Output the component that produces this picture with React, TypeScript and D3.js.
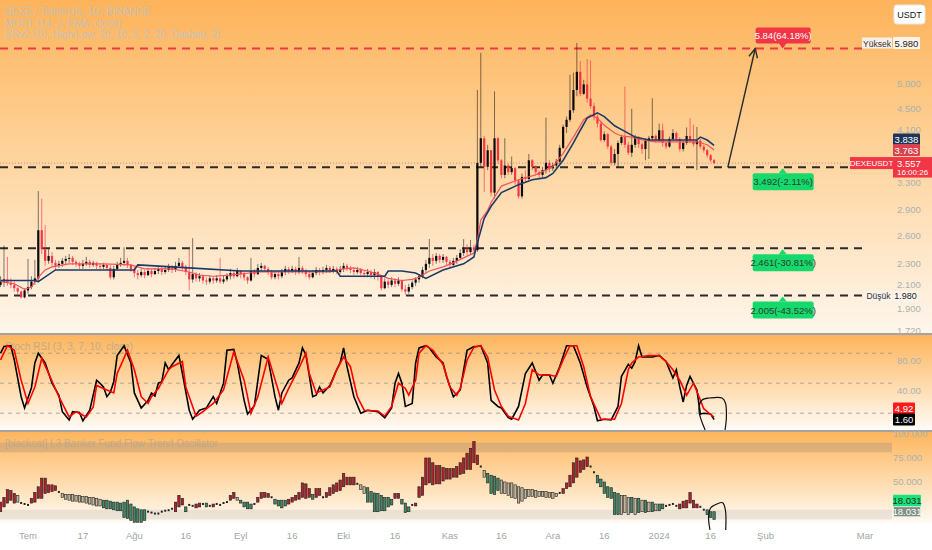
import React from 'react';
import * as d3 from 'd3';

const W = 932;
const H = 550;
const FONT = '"Liberation Sans", Arial, sans-serif';

// daily candles, first one is 23 Jun 2023, open of each day = previous close
const firstOpen = 2.1;
const closes = [
  2.13, 2.15, 2.12, 2.10, 2.07, 2.04, 1.99, 2.05, 2.08, 2.13, 2.16, 2.66, 2.45, 2.33, 2.38, 2.31, 2.28, 2.30, 2.33, 2.35,
  2.36, 2.32, 2.30, 2.28, 2.30, 2.32, 2.29, 2.31, 2.28, 2.27, 2.29, 2.26, 2.17, 2.25, 2.29, 2.31, 2.33, 2.29, 2.25, 2.21,
  2.19, 2.22, 2.19, 2.23, 2.20, 2.23, 2.25, 2.22, 2.24, 2.27, 2.24, 2.28, 2.31, 2.27, 2.22, 2.15, 2.20, 2.16, 2.18, 2.14,
  2.13, 2.16, 2.14, 2.16, 2.13, 2.15, 2.18, 2.21, 2.18, 2.23, 2.20, 2.17, 2.14, 2.23, 2.20, 2.26, 2.28, 2.25, 2.22, 2.17,
  2.20, 2.18, 2.22, 2.25, 2.23, 2.25, 2.22, 2.26, 2.23, 2.20, 2.17, 2.21, 2.24, 2.22, 2.24, 2.26, 2.23, 2.25, 2.22, 2.25,
  2.28, 2.26, 2.24, 2.22, 2.24, 2.21, 2.20, 2.22, 2.19, 2.22, 2.18, 2.07, 2.13, 2.10, 2.14, 2.11, 2.14, 2.06, 2.04, 2.08,
  2.12, 2.15, 2.18, 2.24, 2.30, 2.36, 2.33, 2.38, 2.34, 2.37, 2.32, 2.29, 2.33, 2.36, 2.41, 2.45, 2.42, 2.47, 2.44, 3.56,
  3.96, 3.50, 3.76, 3.13, 3.96, 3.60, 3.38, 3.52, 3.42, 3.48, 3.30, 3.08, 3.35, 3.32, 3.60, 3.50, 3.42, 3.38, 3.45, 3.56,
  3.48, 3.52, 3.58, 3.80, 4.16, 4.29, 4.47, 4.88, 5.28, 4.80, 5.00, 4.70, 4.55, 4.35, 4.22, 3.93, 4.03, 3.82, 3.56, 3.70,
  3.88, 3.98, 3.85, 3.72, 3.85, 3.98, 3.86, 3.78, 3.92, 3.96, 4.00, 3.92, 4.10, 3.88, 3.82, 3.95, 4.05, 3.95, 3.78, 3.88,
  4.00, 3.92, 3.86, 3.92, 3.82, 3.76, 3.68, 3.60, 3.557,
];
const highs = [
  2.18, 2.49, 2.37, 2.16, 2.13, 2.08, 2.05, 2.07, 2.35, 2.18, 2.34, 3.15, 3.05, 2.72, 2.45, 2.42, 2.34, 2.33, 2.36, 2.38,
  2.40, 2.38, 2.34, 2.32, 2.34, 2.37, 2.34, 2.33, 2.32, 2.30, 2.31, 2.30, 2.29, 2.28, 2.32, 2.36, 2.47, 2.36, 2.30, 2.27,
  2.24, 2.25, 2.24, 2.26, 2.25, 2.26, 2.28, 2.27, 2.27, 2.30, 2.29, 2.32, 2.36, 2.33, 2.29, 2.46, 2.57, 2.22, 2.21, 2.19,
  2.17, 2.19, 2.18, 2.19, 2.36, 2.19, 2.21, 2.25, 2.23, 2.26, 2.24, 2.22, 2.18, 2.36, 2.25, 2.30, 2.31, 2.29, 2.27, 2.24,
  2.23, 2.22, 2.25, 2.28, 2.27, 2.28, 2.27, 2.37, 2.28, 2.25, 2.23, 2.24, 2.27, 2.26, 2.27, 2.29, 2.28, 2.28, 2.27, 2.28,
  2.31, 2.30, 2.28, 2.26, 2.27, 2.26, 2.23, 2.25, 2.24, 2.25, 2.23, 2.19, 2.16, 2.15, 2.17, 2.16, 2.17, 2.15, 2.10, 2.11,
  2.14, 2.17, 2.20, 2.27, 2.34, 2.56, 2.40, 2.41, 2.40, 2.40, 2.38, 2.34, 2.36, 2.39, 2.45, 2.56, 2.50, 2.55, 2.50, 4.88,
  5.73, 4.00, 3.85, 3.76, 4.85, 3.98, 3.62, 3.96, 3.55, 3.66, 3.50, 3.32, 3.40, 3.45, 3.70, 3.62, 3.52, 3.45, 3.50, 4.33,
  3.60, 3.56, 3.62, 3.85, 4.20, 4.35, 5.21, 5.26, 5.98, 5.53, 5.10, 5.58, 5.55, 4.62, 4.40, 4.25, 4.08, 4.05, 3.85, 3.78,
  3.92, 4.02, 4.95, 3.90, 4.50, 4.02, 4.00, 3.90, 3.96, 4.00, 4.71, 4.03, 4.22, 4.22, 3.92, 3.99, 4.12, 4.08, 3.98, 3.92,
  4.15, 4.32, 4.20, 4.16, 3.95, 3.85, 3.78, 3.70, 3.62,
];
const lows = [
  2.08, 2.08, 2.09, 2.07, 2.04, 2.02, 1.98, 1.98, 2.02, 2.06, 2.10, 2.12, 2.40, 2.28, 2.30, 2.28, 2.24, 2.26, 2.27, 2.29,
  2.31, 2.29, 2.27, 2.25, 2.25, 2.28, 2.26, 2.27, 2.25, 2.24, 2.25, 2.23, 2.15, 2.15, 2.23, 2.27, 2.28, 2.26, 2.22, 2.17,
  2.15, 2.17, 2.16, 2.18, 2.17, 2.19, 2.20, 2.19, 2.20, 2.22, 2.21, 2.22, 2.26, 2.24, 2.19, 2.05, 2.12, 2.13, 2.13, 2.11,
  2.10, 2.11, 2.11, 2.12, 2.11, 2.11, 2.13, 2.15, 2.16, 2.17, 2.16, 2.14, 2.11, 2.13, 2.17, 2.19, 2.22, 2.22, 2.19, 2.15,
  2.15, 2.15, 2.16, 2.19, 2.20, 2.21, 2.19, 2.20, 2.20, 2.17, 2.15, 2.16, 2.19, 2.19, 2.20, 2.21, 2.21, 2.21, 2.20, 2.20,
  2.22, 2.23, 2.21, 2.19, 2.20, 2.19, 2.17, 2.17, 2.16, 2.15, 2.14, 2.05, 2.06, 2.07, 2.08, 2.08, 2.09, 2.04, 2.01, 2.02,
  2.06, 2.09, 2.12, 2.16, 2.21, 2.26, 2.28, 2.30, 2.31, 2.31, 2.29, 2.26, 2.27, 2.30, 2.34, 2.38, 2.38, 2.39, 2.40, 2.42,
  3.50, 3.14, 3.45, 3.08, 3.05, 3.55, 3.33, 3.33, 3.38, 3.38, 3.24, 3.05, 3.05, 3.28, 3.30, 3.45, 3.38, 3.33, 3.35, 3.40,
  3.42, 3.44, 3.48, 3.55, 3.78, 4.05, 4.25, 4.42, 4.75, 4.75, 4.78, 4.62, 4.50, 4.28, 4.15, 3.90, 3.90, 3.78, 3.52, 3.52,
  3.48, 3.85, 3.80, 3.68, 3.65, 3.80, 3.80, 3.70, 3.60, 3.62, 3.90, 3.88, 3.90, 3.82, 3.78, 3.80, 3.92, 3.90, 3.74, 3.74,
  3.85, 3.88, 3.82, 3.45, 3.78, 3.72, 3.64, 3.57, 3.54,
];

// MOST indicator lines, [day, price]
const mostLine: [number, number][] = [
  [0, 2.14], [10, 2.14], [11, 2.13], [16, 2.24], [39, 2.24], [40, 2.29], [55, 2.26], [70, 2.23], [98, 2.23], [99, 2.18],
  [112, 2.18], [113, 2.23], [117, 2.23], [121, 2.21], [124, 2.16], [129, 2.24], [135, 2.30], [138, 2.37], [139, 2.52],
  [141, 2.80], [143, 2.95], [146, 3.13], [151, 3.24], [155, 3.31], [159, 3.34], [161, 3.40], [164, 3.60], [167, 3.88],
  [169, 4.10], [171, 4.32], [174, 4.42], [176, 4.35], [179, 4.18], [182, 4.08], [185, 3.98], [189, 3.93], [203, 3.93],
  [204, 3.98], [206, 3.93], [208, 3.838],
];
const emaLine: [number, number][] = [
  [0, 2.13], [4, 2.11], [7, 2.06], [9, 2.08], [11, 2.17], [13, 2.24], [15, 2.27], [20, 2.30], [30, 2.30], [38, 2.29],
  [42, 2.25], [50, 2.25], [55, 2.22], [58, 2.19], [62, 2.18], [67, 2.19], [75, 2.22], [85, 2.22], [96, 2.22], [100, 2.25],
  [103, 2.26], [107, 2.23], [110, 2.20], [113, 2.16], [117, 2.14], [120, 2.15], [122, 2.17], [125, 2.23], [129, 2.27],
  [132, 2.31], [135, 2.36], [138, 2.41], [139, 2.55], [140, 2.78], [142, 2.90], [143, 3.0], [146, 3.22], [151, 3.31],
  [156, 3.38], [161, 3.50], [164, 3.71], [167, 3.98], [170, 4.29], [172, 4.38], [174, 4.32], [176, 4.19], [179, 4.05],
  [181, 4.00], [184, 3.98], [187, 3.93], [191, 3.90], [198, 3.90], [203, 3.90], [206, 3.85], [208, 3.763],
];

// Stoch RSI, [day, value]
const stochK: [number, number][] = [
  [0, 90], [1, 99], [3, 100], [4, 81], [6, 32], [7, 17], [9, 44], [10, 77], [11, 90], [13, 77], [15, 50], [17, 34], [18, 12],
  [20, 1], [21, 12], [23, 11], [24, 0], [26, 14], [28, 54], [29, 50], [30, 45], [31, 32], [32, 38], [33, 52], [34, 87],
  [36, 100], [38, 77], [39, 37], [41, 17], [43, 27], [44, 37], [45, 33], [46, 50], [47, 52], [48, 77], [49, 68], [50, 75],
  [52, 87], [53, 63], [55, 14], [56, 2], [58, 14], [60, 17], [62, 32], [63, 23], [65, 50], [66, 94], [68, 95], [69, 77],
  [71, 27], [72, 9], [74, 20], [76, 87], [78, 82], [80, 32], [81, 14], [82, 37], [84, 54], [85, 57], [87, 77], [88, 97],
  [89, 88], [91, 32], [92, 34], [93, 45], [94, 37], [96, 47], [98, 68], [99, 77], [100, 97], [101, 72], [103, 32], [105, 10],
  [107, 14], [110, 12], [112, 4], [114, 17], [115, 50], [116, 63], [117, 50], [118, 19], [120, 23], [121, 77], [122, 97],
  [124, 100], [125, 97], [127, 85], [129, 77], [130, 59], [132, 32], [134, 41], [136, 94], [138, 99], [139, 99], [140, 100],
  [142, 77], [143, 27], [145, 19], [146, 17], [148, 4], [149, 2], [151, 19], [153, 63], [155, 77], [157, 54], [158, 61],
  [160, 61], [161, 50], [163, 72], [165, 100], [167, 100], [169, 77], [171, 45], [173, 19], [174, 0], [176, 2], [178, 1],
  [180, 19], [181, 59], [183, 75], [184, 70], [185, 79], [186, 100], [187, 85], [190, 85], [192, 87], [194, 79], [196, 57],
  [197, 68], [198, 45], [199, 25], [200, 47], [201, 59], [203, 41], [204, 9], [205, 10], [207, 9], [208, 1.6],
];
const stochD: [number, number][] = [
  [0, 81], [2, 100], [4, 94], [6, 54], [8, 23], [10, 45], [12, 83], [14, 63], [17, 32], [20, 5], [22, 12], [25, 5], [27, 18],
  [28, 47], [30, 43], [33, 37], [34, 63], [37, 94], [39, 68], [41, 32], [43, 23], [44, 32], [46, 43], [49, 68], [50, 72],
  [53, 79], [54, 45], [57, 6], [59, 12], [62, 23], [65, 41], [68, 92], [71, 54], [73, 10], [75, 32], [78, 85], [81, 40],
  [82, 23], [84, 43], [87, 70], [89, 90], [90, 63], [92, 37], [94, 41], [96, 45], [98, 68], [100, 85], [102, 72], [104, 32],
  [106, 14], [110, 13], [112, 6], [114, 19], [116, 50], [118, 43], [119, 34], [121, 54], [122, 90], [124, 100], [126, 94],
  [129, 75], [131, 45], [133, 34], [134, 43], [136, 81], [138, 98], [140, 100], [142, 85], [144, 41], [146, 19], [148, 6],
  [151, 1], [153, 23], [155, 68], [157, 61], [160, 61], [162, 59], [164, 81], [166, 100], [168, 100], [170, 72], [172, 32],
  [175, 2], [179, 2], [181, 23], [183, 68], [184, 77], [186, 85], [189, 87], [192, 87], [194, 79], [196, 68], [198, 54],
  [200, 34], [202, 50], [203, 39], [205, 16], [206, 12], [208, 4.92],
];

// Banker fund flow bars, one per day
const flowOpen = [
  18, 23, 27, 30, 27, 35, 27.5, 26.5, 25.5, 27, 28, 32, 32, 37, 38, 39, 40, 39, 37, 36,
  36, 36, 35, 35, 34, 34, 33, 33, 32, 31, 30, 30, 29, 28, 28, 27, 28, 30, 26, 23,
  21, 20, 20, 18.5, 17.5, 16.5, 16.5, 18.5, 19.5, 20, 21.5, 18, 23, 25, 23, 25.5, 24.5, 22, 23, 26.5,
  27, 24.5, 23, 26.5, 25.5, 27.5, 28.5, 30, 32, 33, 30, 28, 28, 26, 26.5, 28, 32, 33, 33, 33.5,
  31, 30, 30, 30, 26, 28, 30, 31, 33, 32, 33, 36, 33, 35, 33.5, 33, 35, 37, 39, 40,
  44, 46, 46, 46, 47.5, 46, 44, 43, 39, 37.5, 37, 35, 33, 33, 31, 32, 32, 31, 27, 23,
  25.5, 24, 33, 35, 46, 48, 46, 47, 47, 50, 52, 52, 54, 54, 57, 58, 62, 62, 69, 67,
  65.5, 61, 58, 56, 55, 53, 51, 49, 48, 48, 46, 44, 43, 41, 41, 41, 40, 39, 39, 39,
  38, 38, 37, 38, 37, 42, 44, 48, 54, 59, 62, 65, 65.5, 59.5, 56, 52, 49, 44, 43, 38,
  37, 35, 35, 33, 33, 32, 32, 30, 30, 28, 28, 26, 26, 26, 24.5, 25.5, 26.5, 24.5, 21, 22,
  22, 27, 22, 22, 23.5, 20.5, 20, 18, 18,
];
const flowClose = [
  28, 33, 41, 40, 37, 28, 26.5, 26, 25, 32, 38, 44, 53, 53, 46, 46, 45, 38, 33, 31,
  30, 29, 29, 28, 28, 27, 26, 25, 24, 24, 22, 21, 21, 20, 19, 19, 12, 11, 9, 7,
  7, 7, 9, 18, 17, 16, 16, 18, 19, 19.5, 21, 28, 35, 32, 18, 25, 24, 26, 27, 26,
  23, 24, 26, 26, 25, 27, 28, 35, 38, 30, 27, 23, 21, 21, 26, 33, 38, 38, 37, 33,
  26, 24, 22, 24, 31, 33, 35, 38, 48, 47, 42, 31, 42, 42, 33, 38, 43, 46, 48, 51,
  58, 54, 54, 54, 47, 41, 37, 28, 28, 18, 18, 19, 19, 23, 25, 37, 37, 26, 17, 18,
  25, 27, 44, 54, 74, 74, 69, 66, 66, 64, 63, 63, 63, 65, 69, 74, 79, 84, 91, 77,
  65, 54, 48, 37, 36, 40, 37, 37, 35, 33, 32, 27, 29, 32, 34, 34, 33, 34, 34, 33,
  33, 32, 34, 37.5, 42, 48, 56, 69, 74, 71, 72, 75, 65, 59, 48, 44, 37, 33, 32, 15,
  15, 15, 17, 15, 17, 15, 17, 18, 17, 18, 18, 19, 19, 21, 24, 25, 26, 24, 26, 29,
  30, 38, 30, 26, 23, 20, 15, 12, 10,
];
// falling bars drawn in beige instead of green
const flowBeigeDays = [
  5, 18, 19, 20, 21, 22, 23, 24, 25, 26, 27, 28, 29, 69, 105, 106, 141, 146, 147, 148, 149, 150, 151, 152, 153, 154,
  155, 156, 157, 158, 159, 160, 161, 162, 181, 182, 183, 185, 187, 189, 191,
];

// support / resistance levels and their tags
const srLevels = [3.492, 2.461, 2.005];
const srTags = ['3.492(-2.11%)', '2.461(-30.81%)', '2.005(-43.52%)'];
const targetLevel = 5.84;
const targetTag = '5.84(64.18%)';

const priceTicks = [5.0, 4.5, 4.1, 3.3, 2.9, 2.6, 2.3, 2.1, 1.9, 1.72];
const stochTicks = [80, 40];
const stochBands = [90, 50, 10];
const flowTicks = [100, 75, 50];
const flowBands: [number, number][] = [[80, 90], [10, 20]];

const timeTicks: [number, number, number, string][] = [
  [2023, 6, 1, 'Tem'], [2023, 6, 17, '17'], [2023, 7, 1, 'Ağu'], [2023, 7, 16, '16'], [2023, 8, 1, 'Eyl'],
  [2023, 8, 16, '16'], [2023, 9, 1, 'Eki'], [2023, 9, 16, '16'], [2023, 10, 1, 'Kas'], [2023, 10, 16, '16'],
  [2023, 11, 1, 'Ara'], [2023, 11, 16, '16'], [2024, 0, 1, '2024'], [2024, 0, 16, '16'], [2024, 1, 1, 'Şub'],
  [2024, 2, 1, 'Mar'],
];

const headerLines = [
  'DEXE / TetherUS, 1G, BINANCE',
  'MOST (14, 2, EMA, close)',
  'SRv2 (10, High/Low, 20, 10, 5, 2, 20, Dashed, 2)',
];

const lastPrice = 3.557;
const mostLast = 3.838;
const emaLast = 3.763;
const highMark = 5.98;
const lowMark = 1.98;
const kLast = 1.6;
const dLast = 4.92;
const flowLast = 18.031;

// hand drawn marks, in [day, value]
const arrowFrom: [number, number] = [212, 3.49];
const arrowTo: [number, number] = [220, 5.84];
const stochLoop: [number, number][] = [
  [205.4, -12.4], [203.6, 14], [204.5, 27.6], [206.8, 30.3], [210.3, 30.3], [211.3, 24], [211.6, 5], [211.2, -12.4],
];
const flowLoop: [number, number][] = [
  [206.8, -1], [206.4, 12.8], [207, 21.9], [208.8, 26], [210.5, 27.4], [211.3, 19.8], [211.4, -1],
];

const DAY0 = Date.UTC(2023, 5, 23);
const dayDate = (d: number) => new Date(DAY0 + d * 864e5);

export default function App() {
  const x = d3.scaleUtc().domain([dayDate(0), new Date(Date.UTC(2024, 2, 1))]).range([0.56, 865]);
  const y = d3.scaleLog().domain([1.72, 5.98]).range([331, 43]);
  const ys = d3.scaleLinear().domain([0, 100]).range([420.7, 345.7]);
  const yf = d3.scaleLinear().domain([0, 100]).range([529, 433]);
  const xd = (d: number) => x(dayDate(d));

  const priceLine = d3.line<[number, number]>().x(d => xd(d[0])).y(d => y(d[1]));
  const stochLine = d3.line<[number, number]>().x(d => xd(d[0])).y(d => ys(d[1]));
  const stochCurve = d3.line<[number, number]>().x(d => xd(d[0])).y(d => ys(d[1])).curve(d3.curveCatmullRom);
  const flowCurve = d3.line<[number, number]>().x(d => xd(d[0])).y(d => yf(d[1])).curve(d3.curveCatmullRom);

  const bw = 2.2;
  const axisX = 897;
  const axisColor = '#aab2b2';

  // arrow geometry
  const ax1 = xd(arrowFrom[0]), ay1 = y(arrowFrom[1]);
  const ax2 = xd(arrowTo[0]), ay2 = y(arrowTo[1]);
  const ang = Math.atan2(ay2 - ay1, ax2 - ax1);
  const headL = 10;
  const h1 = [ax2 - headL * Math.cos(ang - 0.45), ay2 - headL * Math.sin(ang - 0.45)];
  const h2 = [ax2 - headL * Math.cos(ang + 0.45), ay2 - headL * Math.sin(ang + 0.45)];

  const tagX = xd(228);
  const emaY = y(emaLast);
  const mostY = Math.min(y(mostLast), emaY - 11.5) + 1;
  const kY = ys(kLast);
  const dY = Math.min(ys(dLast), kY - 11);
  const fY = yf(flowLast);
  const lowY = y(lowMark) - 2;
  const lastY = y(lastPrice);

  // small nudges so tick texts peek out from under the value tags
  const tickShift = (v: number) => (v === 1.9 ? 4 : v === 3.3 ? 5.5 : 3);

  const axisLabel = (key: string, cy: number, text: string, fill: string, color: string, w = 28) => (
    <g key={key}>
      <rect x={893} y={cy - 6} width={w} height={12} fill={fill} rx={1} />
      <text x={893 + w / 2} y={cy + 3.5} fontSize={9.5} fill={color} textAnchor="middle" fontFamily={FONT}>{text}</text>
    </g>
  );

  return (
    <div style={{ position: 'absolute', left: 0, top: 0 }}>
      <style>{'body{margin:0}'}</style>
      <svg width={W} height={H} style={{ display: 'block' }}>
        <defs>
          <linearGradient id="gMain" x1="0" y1="0" x2="0" y2="1">
            <stop offset="0" stopColor="#fdb35a" />
            <stop offset="0.5" stopColor="#fed6a2" />
            <stop offset="1" stopColor="#fff6ec" />
          </linearGradient>
          <linearGradient id="gSub" x1="0" y1="0" x2="0" y2="1">
            <stop offset="0" stopColor="#fdb55c" />
            <stop offset="0.5" stopColor="#fed9a8" />
            <stop offset="1" stopColor="#fffbf6" />
          </linearGradient>
        </defs>

        {/* backgrounds */}
        <rect x={0} y={0} width={W} height={H} fill="#ffffff" />
        <rect x={0} y={0} width={W} height={333} fill="url(#gMain)" />
        <rect x={0} y={335} width={W} height={95} fill="url(#gSub)" />
        <rect x={0} y={432} width={W} height={92} fill="url(#gSub)" />
        <rect x={0} y={333} width={W} height={2} fill="#a3a3a3" />
        <rect x={0} y={430} width={W} height={2} fill="#a3a3a3" />

        {/* header */}
        {headerLines.map((t, i) => (
          <text key={t} x={5} y={15 + i * 11.5} fontSize={10} fill="#b9c3cc" fillOpacity={0.85} fontFamily={FONT}>{t}</text>
        ))}

        {/* price axis ticks (drawn first, value tags cover them as on the reference) */}
        {priceTicks.map(v => (
          <text key={v} x={axisX} y={y(v) + tickShift(v)} fontSize={9.5} fill={axisColor} fontFamily={FONT}>{v.toFixed(3)}</text>
        ))}

        {/* S/R dashed levels */}
        <line x1={0} x2={862} y1={y(targetLevel)} y2={y(targetLevel)} stroke="#f23645" strokeWidth={2} strokeDasharray="8 6" />
        {srLevels.map(v => (
          <line key={v} x1={0} x2={862} y1={y(v)} y2={y(v)} stroke="#2b2b2b" strokeWidth={2} strokeDasharray="8 6" />
        ))}
        <line x1={0} x2={852} y1={lastY} y2={lastY} stroke="#f23645" strokeOpacity={0.55} strokeWidth={1} strokeDasharray="1 2" />

        {/* candles */}
        {closes.map((c, i) => {
          const o = i === 0 ? firstOpen : closes[i - 1];
          const up = c >= o;
          const cx = xd(i);
          const top = y(Math.max(o, c));
          const bot = y(Math.min(o, c));
          return (
            <g key={i}>
              <line x1={cx} x2={cx} y1={y(highs[i])} y2={y(lows[i])} stroke={up ? 'rgba(0,0,0,0.5)' : 'rgba(242,54,69,0.65)'} strokeWidth={1} />
              <rect x={cx - bw / 2} y={top} width={bw} height={Math.max(1, bot - top)} fill={up ? '#0a0a0a' : '#f23645'} />
            </g>
          );
        })}

        {/* MOST lines */}
        <path d={priceLine(emaLine) || ''} fill="none" stroke="#f5525c" strokeWidth={1.2} />
        <path d={priceLine(mostLine) || ''} fill="none" stroke="#1d3a66" strokeWidth={1.6} />

        {/* arrow */}
        <line x1={ax1} y1={ay1} x2={ax2} y2={ay2} stroke="#2a2a2a" strokeWidth={1.4} />
        <polyline points={`${h1[0]},${h1[1]} ${ax2},${ay2} ${h2[0]},${h2[1]}`} fill="none" stroke="#2a2a2a" strokeWidth={1.4} />

        {/* target tag */}
        <g>
          <rect x={tagX - 27} y={y(targetLevel) - 21} width={55} height={16} rx={2} fill="#f23645" />
          <path d={`M${tagX - 4},${y(targetLevel) - 5.5} L${tagX + 4},${y(targetLevel) - 5.5} L${tagX},${y(targetLevel)} Z`} fill="#f23645" />
          <text x={tagX + 0.5} y={y(targetLevel) - 9.5} fontSize={9.5} fill="#ffffff" textAnchor="middle" fontFamily={FONT}>{targetTag}</text>
        </g>
        {srLevels.map((v, i) => (
          <g key={srTags[i]}>
            <path d={`M${tagX - 4},${y(v) + 6} L${tagX + 4},${y(v) + 6} L${tagX},${y(v) + 1} Z`} fill="#16d96c" />
            <rect x={tagX - 30} y={y(v) + 6} width={61} height={17} rx={2} fill="#16d96c" />
            <text x={tagX + 0.5} y={y(v) + 18} fontSize={9.5} fill="#2a3a30" textAnchor="middle" fontFamily={FONT}>{srTags[i]}</text>
          </g>
        ))}

        {/* right axis labels for the main pane */}
        <rect x={894} y={5} width={31} height={19} rx={3} fill="#ffffff" stroke="#e6e6e6" />
        <text x={909.5} y={18} fontSize={9} fill="#131722" textAnchor="middle" fontFamily={FONT}>USDT</text>

        <rect x={862} y={y(highMark) - 5.5} width={30} height={11} fill="#f7efe6" />
        <text x={877} y={y(highMark) + 3.5} fontSize={8.5} fill="#333" textAnchor="middle" fontFamily={FONT}>Yüksek</text>
        {axisLabel('hi', y(highMark), highMark.toFixed(3), '#fbf4ec', '#222', 27)}
        <rect x={865} y={lowY - 5.5} width={27} height={11} fill="#fbf4ec" />
        <text x={878.5} y={lowY + 3} fontSize={8.5} fill="#333" textAnchor="middle" fontFamily={FONT}>Düşük</text>
        <rect x={893} y={lowY - 5.5} width={25} height={11} fill="#fbf4ec" />
        <text x={905.5} y={lowY + 3} fontSize={9} fill="#222" textAnchor="middle" fontFamily={FONT}>{lowMark.toFixed(3)}</text>

        {axisLabel('most', mostY, mostLast.toFixed(3), '#1d3557', '#ffffff', 27)}
        {axisLabel('ema', emaY, emaLast.toFixed(3), '#d9434f', '#ffffff', 27)}
        <rect x={850} y={lastY - 6} width={43} height={12} fill="#f23645" />
        <text x={871.5} y={lastY + 3.2} fontSize={8} fill="#ffffff" textAnchor="middle" fontFamily={FONT}>DEXEUSDT</text>
        <rect x={893} y={lastY - 6} width={39} height={20.5} fill="#f23645" />
        <text x={897} y={lastY + 3.5} fontSize={9.5} fill="#ffffff" fontFamily={FONT}>{lastPrice.toFixed(3)}</text>
        <text x={897} y={lastY + 12} fontSize={8} fill="#ffffff" fontFamily={FONT}>16:00:26</text>

        {/* Stoch RSI pane */}
        <text x={5} y={350} fontSize={10} fill="#b4a890" fillOpacity={0.85} fontFamily={FONT}>Stoch RSI (3, 3, 7, 10, close)</text>
        {stochBands.map(v => (
          <line key={v} x1={0} x2={892} y1={ys(v)} y2={ys(v)} stroke="#8a8a8a" strokeOpacity={0.7} strokeDasharray="4 4" />
        ))}
        {stochTicks.map(v => (
          <text key={v} x={axisX} y={ys(v) + 3.5} fontSize={9.5} fill={axisColor} fontFamily={FONT}>{v.toFixed(2)}</text>
        ))}
        <path d={stochLine(stochK) || ''} fill="none" stroke="#000000" strokeWidth={1.6} />
        <path d={stochLine(stochD) || ''} fill="none" stroke="#ff0000" strokeWidth={1.6} />
        <path d={stochCurve(stochLoop) || ''} fill="none" stroke="#111" strokeWidth={1.2} />
        {axisLabel('d', dY, dLast.toFixed(2), '#ff1a1a', '#ffffff', 22)}
        {axisLabel('k', kY, kLast.toFixed(2), '#000000', '#ffffff', 22)}

        {/* Banker fund flow pane */}
        {flowBands.map(([a, b]) => (
          <rect key={a} x={0} y={yf(b)} width={892} height={yf(a) - yf(b)} fill={a > 50 ? 'rgba(110,110,130,0.22)' : 'rgba(120,120,120,0.14)'} />
        ))}
        <text x={5} y={447} fontSize={10} fill="#b8a88e" fillOpacity={0.85} fontFamily={FONT}>[blackcat] L3 Banker Fund Flow Trend Oscillator</text>
        {flowTicks.map(v => (
          <text key={v} x={axisX - 4} y={yf(v) + 3.5} fontSize={9.5} fill={axisColor} fontFamily={FONT}>{v.toFixed(3)}</text>
        ))}
        {flowOpen.map((o, i) => {
          const c = flowClose[i];
          const cx = xd(i);
          const diff = c - o;
          if (Math.abs(diff) <= 1) {
            return <rect key={i} x={cx - 1} y={yf(Math.max(o, c)) - 0.6} width={2} height={2} fill="#222" />;
          }
          const fill = diff > 0 ? '#b3202a' : flowBeigeDays.includes(i) ? '#c3b69f' : '#3f8a66';
          const top = yf(Math.max(o, c));
          const bot = yf(Math.min(o, c));
          return <rect key={i} x={cx - 1.2} y={top} width={2.4} height={bot - top} fill={fill} stroke="#1e1e1e" strokeWidth={0.6} />;
        })}
        <path d={flowCurve(flowLoop) || ''} fill="none" stroke="#111" strokeWidth={1.2} />
        {axisLabel('f1', fY - 11, flowLast.toFixed(3), '#1de27a', '#10301c', 28)}
        <rect x={893.5} y={fY - 5} width={27} height={10} fill="#7f8f83" stroke="#dfe6e0" />
        <text x={907} y={fY + 3.5} fontSize={9.5} fill="#ffffff" textAnchor="middle" fontFamily={FONT}>{flowLast.toFixed(3)}</text>

        {/* time axis */}
        {timeTicks.map(([yy, m, d, label]) => (
          <text key={label + m} x={x(new Date(Date.UTC(yy, m, d)))} y={539} fontSize={9.5} fill="#9ea79f" textAnchor="middle" fontFamily={FONT}>{label}</text>
        ))}
      </svg>
    </div>
  );
}
